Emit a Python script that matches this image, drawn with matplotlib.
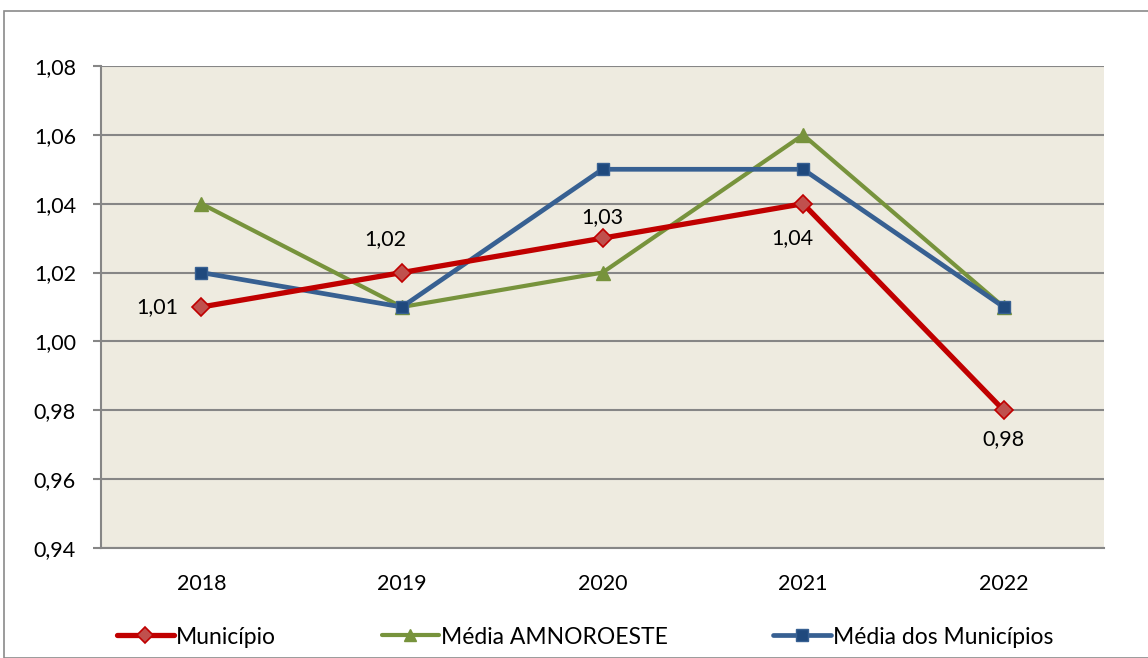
import matplotlib
matplotlib.use("Agg")
import matplotlib.pyplot as plt
from matplotlib.patches import Rectangle
from matplotlib.ticker import FuncFormatter

years = ["2018", "2019", "2020", "2021", "2022"]
municipio = [1.01, 1.02, 1.03, 1.04, 0.98]
media_amnoroeste = [1.04, 1.01, 1.02, 1.06, 1.01]
media_municipios = [1.02, 1.01, 1.05, 1.05, 1.01]
yticks = [0.94, 0.96, 0.98, 1.00, 1.02, 1.04, 1.06, 1.08]

plt.rcParams['font.family'] = ['Lato', 'DejaVu Sans']

W, H = 1148, 658
fig = plt.figure(figsize=(W / 100, H / 100), dpi=100)
fig.patches.append(Rectangle((4 / W, 0), 1.5, 1 - 11 / H, transform=fig.transFigure,
                             fill=False, edgecolor='#8a8a8a', linewidth=1.2))

ax = fig.add_axes([101 / W, 1 - 548 / H, (1104 - 101) / W, (548 - 66) / H])
ax.set_facecolor('#EEEBE0')
x = list(range(len(years)))

common = dict(solid_capstyle='round', solid_joinstyle='round')
ax.plot(x, municipio, color='#C00000', lw=3.8, marker='D', ms=9,
        mfc='#C0504D', mec='#C00000', mew=1.2, label='Município', zorder=3, **common)
ax.plot(x, media_amnoroeste, color='#77933C', lw=3.0, marker='^', ms=10,
        mfc='#77933C', mec='#77933C', label='Média AMNOROESTE', zorder=2, **common)
ax.plot(x, media_municipios, color='#376092', lw=3.4, marker='s', ms=9,
        mfc='#1F497D', mec='#376092', mew=1.0, label='Média dos Municípios', zorder=2.5, **common)

ax.set_xlim(-0.5, 4.5)
ax.set_ylim(0.94, 1.08)
ax.set_yticks(yticks)
ax.yaxis.set_major_formatter(FuncFormatter(lambda v, p: f"{v:.2f}".replace('.', ',')))
ax.set_xticks(x)
ax.set_xticklabels(years)
ax.grid(axis='y', color='#868686', lw=1.5)
ax.set_axisbelow(True)
for s in ['top', 'right']:
    ax.spines[s].set_visible(False)
for s in ['left', 'bottom']:
    ax.spines[s].set_color('#868686')
    ax.spines[s].set_linewidth(1.5)
ax.tick_params(axis='y', length=6, width=1.5, color='#868686', pad=12, labelsize=15.5)
ax.tick_params(axis='x', length=0, pad=19, labelsize=15.5)

# data labels for Município
offsets = [(-32, 0), (-12, 24), (0, 15), (-8, -25), (0, -21)]
for xi, yi, (dx, dy) in zip(x, municipio, offsets):
    ax.annotate(f"{yi:.2f}".replace('.', ','), (xi, yi), xytext=(dx, dy),
                textcoords='offset points', ha='center', va='center', fontsize=15.5)

fig.legend(loc='center', bbox_to_anchor=(585 / W, 1 - 637 / H), ncol=3, frameon=False,
           fontsize=16.5, handlelength=2.5, handletextpad=0.1, columnspacing=4.6,
           markerscale=0.9)

fig.savefig('out.png', dpi=100)
